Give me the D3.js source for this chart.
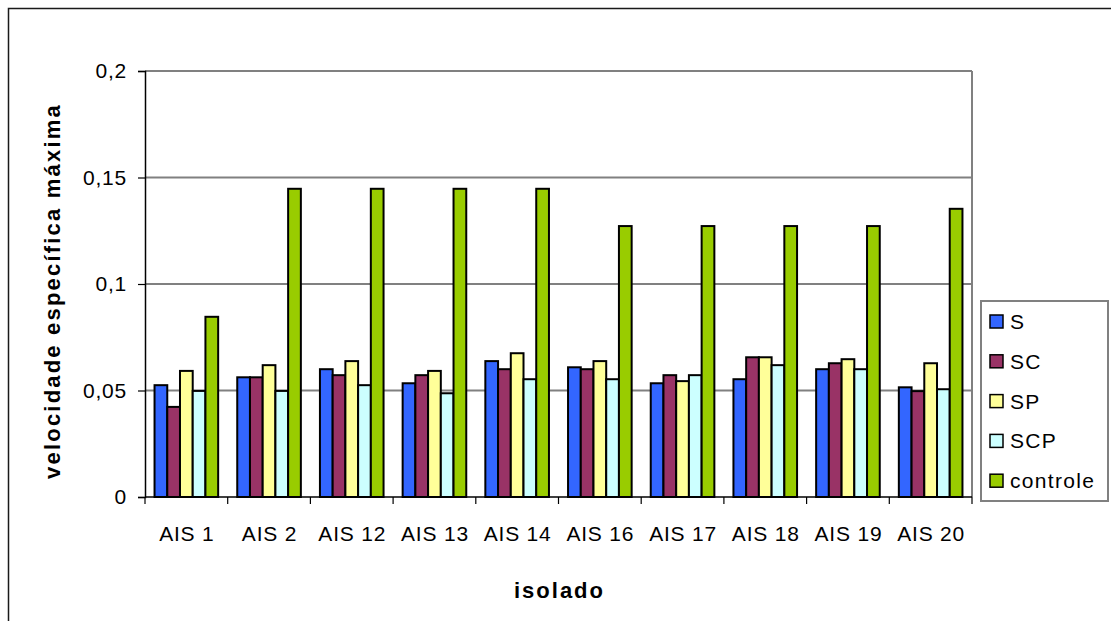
<!DOCTYPE html>
<html>
<head>
<meta charset="utf-8">
<script src="https://cdn.jsdelivr.net/npm/d3@7"></script>
<style>
  html, body { margin: 0; padding: 0; background: #fff; }
  svg { display: block; font-family: "Liberation Sans", Arial, sans-serif; }
</style>
</head>
<body>
<svg id="chart" width="1111" height="621"></svg>
<script>
// Isolates on the category axis
const categories = ["AIS 1", "AIS 2", "AIS 12", "AIS 13", "AIS 14", "AIS 16", "AIS 17", "AIS 18", "AIS 19", "AIS 20"];
// Treatments (one bar per treatment in each group)
const seriesNames = ["S", "SC", "SP", "SCP", "controle"];
const seriesColors = ["#3366FF", "#993366", "#FFFF99", "#CCFFFF", "#99CC00"];
// Maximum specific growth rate per treatment, in category order
const valuesS        = [0.0525, 0.0562, 0.0600, 0.0534, 0.0638, 0.0609, 0.0534, 0.0553, 0.0600, 0.0515];
const valuesSC       = [0.0423, 0.0562, 0.0572, 0.0572, 0.0600, 0.0600, 0.0572, 0.0656, 0.0628, 0.0497];
const valuesSP       = [0.0592, 0.0619, 0.0638, 0.0592, 0.0675, 0.0638, 0.0544, 0.0656, 0.0647, 0.0628];
const valuesSCP      = [0.0498, 0.0498, 0.0525, 0.0487, 0.0553, 0.0553, 0.0572, 0.0619, 0.0600, 0.0506];
const valuesControle = [0.0846, 0.1447, 0.1447, 0.1447, 0.1447, 0.1272, 0.1272, 0.1272, 0.1272, 0.1353];
// Value axis ticks
const yTicks = [0, 0.05, 0.1, 0.15, 0.2];
const yTickLabels = ["0", "0,05", "0,1", "0,15", "0,2"];

const seriesValues = [valuesS, valuesSC, valuesSP, valuesSCP, valuesControle];
const rows = categories.map((c, i) => ({
  cat: c,
  vals: seriesNames.map((s, j) => ({ key: s, value: seriesValues[j][i], color: seriesColors[j] }))
}));

const svg = d3.select("#chart");
const plot = { left: 145, top: 71, right: 972, bottom: 497 };

// Outer chart frame
svg.append("rect")
  .attr("x", 8.5).attr("y", 8.5).attr("width", 1120).attr("height", 630)
  .attr("fill", "#fff").attr("stroke", "#1a1a1a").attr("stroke-width", 1.5);

const x = d3.scaleBand().domain(categories).range([plot.left, plot.right]).padding(0);
const bw = x.bandwidth();
const gap = bw * 1.5 / 6.5;
const xs = d3.scaleBand().domain(seriesNames).range([gap / 2, bw - gap / 2]).padding(0);
const y = d3.scaleLinear().domain([0, 0.2]).range([plot.bottom, plot.top]);

// Horizontal gridlines and top/right border of the plot area
svg.append("g").selectAll("line")
  .data(yTicks.filter(t => t > 0))
  .join("line")
  .attr("x1", plot.left).attr("x2", plot.right)
  .attr("y1", d => y(d)).attr("y2", d => y(d))
  .attr("stroke", "#808080").attr("stroke-width", 2);
svg.append("line")
  .attr("x1", plot.right).attr("x2", plot.right)
  .attr("y1", plot.top).attr("y2", plot.bottom)
  .attr("stroke", "#808080").attr("stroke-width", 2);

// Bars
const groups = svg.append("g").selectAll("g")
  .data(rows).join("g")
  .attr("transform", d => `translate(${x(d.cat)},0)`);
groups.selectAll("rect")
  .data(d => d.vals).join("rect")
  .attr("x", d => xs(d.key))
  .attr("y", d => y(d.value))
  .attr("width", xs.bandwidth())
  .attr("height", d => y(0) - y(d.value))
  .attr("fill", d => d.color)
  .attr("stroke", "#000").attr("stroke-width", 2);

// Value axis
const yAxis = d3.axisLeft(y).tickValues(yTicks)
  .tickFormat((d, i) => yTickLabels[i]).tickSizeOuter(0).tickSize(7).tickPadding(11);
const ya = svg.append("g").attr("transform", `translate(${plot.left},0)`).call(yAxis);
ya.select(".domain").attr("stroke", "#000").attr("stroke-width", 1.5);
ya.selectAll(".tick line").attr("stroke", "#000").attr("stroke-width", 1.2);
ya.selectAll(".tick text").attr("font-size", 21).attr("fill", "#000")
  .attr("letter-spacing", 0.8)
  .attr("font-family", "'Liberation Sans', Arial, sans-serif");

// Category axis: ticks sit on the band boundaries
const xa = svg.append("g").attr("transform", `translate(0,${plot.bottom})`);
xa.append("line").attr("x1", plot.left).attr("x2", plot.right)
  .attr("stroke", "#000").attr("stroke-width", 1.5);
const boundaries = categories.map(c => x(c)).concat([x(categories[categories.length - 1]) + bw]);
xa.selectAll("line.tk").data(boundaries).join("line").attr("class", "tk")
  .attr("x1", d => d).attr("x2", d => d).attr("y1", 0).attr("y2", 7)
  .attr("stroke", "#000").attr("stroke-width", 1.2);
xa.selectAll("text").data(categories).join("text")
  .attr("x", d => x(d) + bw / 2 + 0.5).attr("y", 44)
  .attr("text-anchor", "middle").attr("font-size", 21).attr("letter-spacing", 0.8)
  .attr("fill", "#000")
  .text(d => d);

// Axis titles
svg.append("text")
  .attr("x", (plot.left + plot.right) / 2 + 1).attr("y", 598)
  .attr("text-anchor", "middle").attr("font-size", 22).attr("font-weight", "bold")
  .attr("letter-spacing", 2)
  .text("isolado");
svg.append("text")
  .attr("transform", "translate(60,291) rotate(-90)")
  .attr("text-anchor", "middle").attr("font-size", 22).attr("font-weight", "bold")
  .attr("letter-spacing", 2.2)
  .text("velocidade específica máxima");

// Legend
const legend = svg.append("g");
legend.append("rect")
  .attr("x", 981).attr("y", 301).attr("width", 127).attr("height", 200)
  .attr("fill", "#fff").attr("stroke", "#808080").attr("stroke-width", 2);
const items = legend.selectAll("g.item").data(seriesNames).join("g").attr("class", "item")
  .attr("transform", (d, i) => `translate(990,${321.5 + i * 39.8})`);
items.append("rect")
  .attr("x", 0).attr("y", -6.5).attr("width", 13).attr("height", 13)
  .attr("fill", (d, i) => seriesColors[i]).attr("stroke", "#000").attr("stroke-width", 1.5);
items.append("text")
  .attr("x", 20).attr("y", 7.5).attr("font-size", 21).attr("letter-spacing", 1.3)
  .attr("fill", "#000")
  .text(d => d);
</script>
</body>
</html>
